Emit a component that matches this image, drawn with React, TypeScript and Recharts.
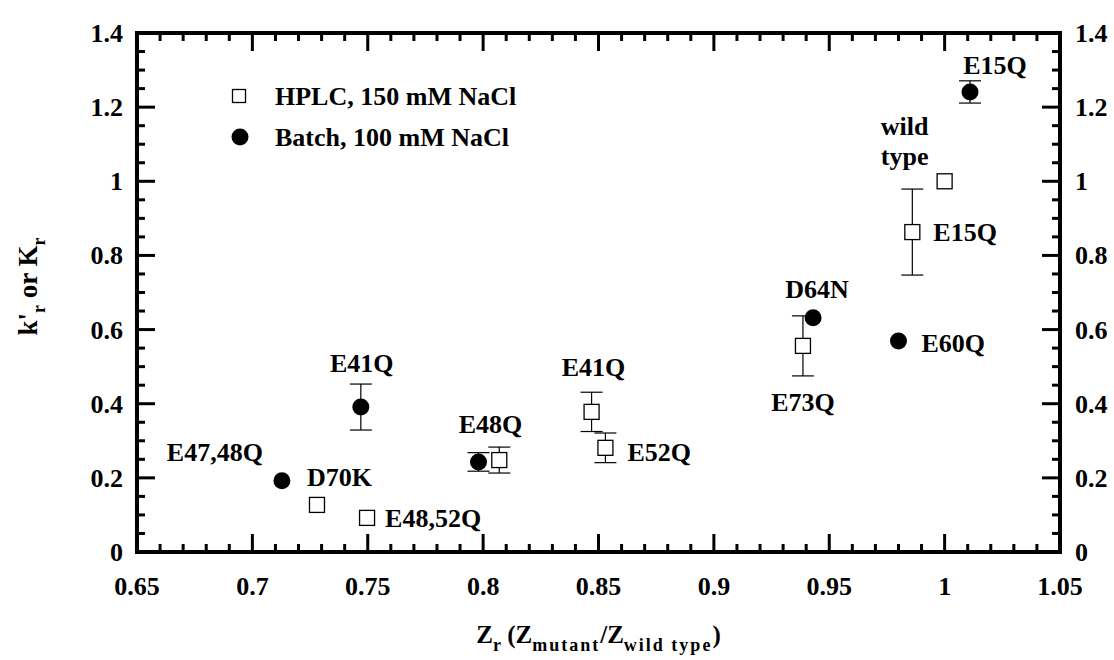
import { ErrorBar, Label, Scatter, ScatterChart, XAxis, YAxis } from 'recharts';

// HPLC, 150 mM NaCl (open squares)
const hplcZ = [0.728, 0.7497, 0.807, 0.847, 0.853, 0.9386, 0.986, 1.0];
const hplcK = [0.127, 0.092, 0.248, 0.378, 0.281, 0.556, 0.863, 1.0];
const hplcErr = [0, 0, 0.035, 0.053, 0.04, 0.081, 0.116, 0];
const hplcNames = ['D70K', 'E48,52Q', '', 'E41Q', 'E52Q', 'E73Q', 'E15Q', 'wild type'];

// Batch, 100 mM NaCl (filled circles)
const batchZ = [0.7128, 0.747, 0.798, 0.943, 0.98, 1.011];
const batchK = [0.192, 0.391, 0.243, 0.632, 0.569, 1.241];
const batchErr = [0, 0.062, 0.025, 0, 0, 0.03];
const batchNames = ['E47,48Q', 'E41Q', 'E48Q', 'D64N', 'E60Q', 'E15Q'];

const seriesNames = ['HPLC, 150 mM NaCl', 'Batch, 100 mM NaCl'];
const seriesSymbols = ['square', 'circle'];

const xMajor = [0.65, 0.7, 0.75, 0.8, 0.85, 0.9, 0.95, 1, 1.05];
const yMajor = [0, 0.2, 0.4, 0.6, 0.8, 1, 1.2, 1.4];

// minor ticks: 0.01 on x, 0.05 on y
const xTicks = Array.from({ length: 41 }, (_, i) => Math.round((0.65 + i * 0.01) * 100) / 100);
const yTicks = Array.from({ length: 29 }, (_, i) => Math.round(i * 0.05 * 100) / 100);

const hplcData = hplcZ.map((z, i) => ({ z, k: hplcK[i], err: hplcErr[i], name: hplcNames[i] }));
const batchData = batchZ.map((z, i) => ({ z, k: batchK[i], err: batchErr[i], name: batchNames[i] }));

const FONT = 'Liberation Serif';
const FS = 26;
const LIFT = 9; // baseline offset so text is centred on a y

type Spot = { dx: number; dy: number; anchor: 'start' | 'middle' | 'end'; gap?: number };
const labelSpots: Record<string, Spot> = {
  'hplc:D70K': { dx: -10, dy: -28, anchor: 'start' },
  'hplc:E48,52Q': { dx: 18, dy: 0, anchor: 'start' },
  'hplc:E41Q': { dx: 2, dy: -45, anchor: 'middle' },
  'hplc:E52Q': { dx: 22, dy: 4, anchor: 'start' },
  'hplc:E73Q': { dx: 0, dy: 56, anchor: 'middle' },
  'hplc:E15Q': { dx: 21, dy: 0, anchor: 'start' },
  'hplc:wild type': { dx: -40, dy: -55, anchor: 'middle', gap: 30 },
  'batch:E47,48Q': { dx: -67, dy: -29, anchor: 'middle' },
  'batch:E41Q': { dx: 1, dy: -44, anchor: 'middle' },
  'batch:E48Q': { dx: 12, dy: -38, anchor: 'middle' },
  'batch:D64N': { dx: 4, dy: -29, anchor: 'middle' },
  'batch:E60Q': { dx: 23, dy: 2, anchor: 'start' },
  'batch:E15Q': { dx: 25, dy: -27, anchor: 'middle' },
};

const near = (v: number, list: number[]) => list.some((m) => Math.abs(m - v) < 1e-6);
const fmt = (v: number) => String(Number(v.toFixed(2)));

function pointLabel(cx: number, cy: number, name: string, series: string) {
  const spot = labelSpots[`${series}:${name}`];
  if (!name || !spot) return null;
  const lines = spot.gap ? name.split(' ') : [name];
  return lines.map((line, i) => (
    <text
      key={line}
      x={cx + spot.dx}
      y={cy + spot.dy + LIFT + i * (spot.gap || 0)}
      textAnchor={spot.anchor}
      fontFamily={FONT}
      fontWeight="bold"
      fontSize={FS}
      fill="#000"
    >
      {line}
    </text>
  ));
}

function SquareShape({ cx, cy, payload }: any) {
  return (
    <g>
      <rect x={cx - 7.5} y={cy - 7.5} width={15} height={15} fill="#fff" stroke="#000" strokeWidth={1.3} />
      {pointLabel(cx, cy, payload.name, 'hplc')}
    </g>
  );
}

function CircleShape({ cx, cy, payload }: any) {
  return (
    <g>
      <circle cx={cx} cy={cy} r={8.5} fill="#000" />
      {pointLabel(cx, cy, payload.name, 'batch')}
    </g>
  );
}

const NoShape = () => <g />;

function BottomTick({ x, y, payload }: any) {
  const major = near(payload.value, xMajor);
  return (
    <g>
      <line x1={x} x2={x} y1={y} y2={y - (major ? 18 : 8)} stroke="#000" strokeWidth={3} />
      {major && (
        <text x={x} y={y + 34 + LIFT} textAnchor="middle" fill="#000" fontFamily={FONT} fontWeight="bold" fontSize={FS}>
          {fmt(payload.value)}
        </text>
      )}
    </g>
  );
}

function TopTick({ x, y, payload }: any) {
  const major = near(payload.value, xMajor);
  return (
    <g>
      <line x1={x} x2={x} y1={y} y2={y + (major ? 18 : 8)} stroke="#000" strokeWidth={3} />
    </g>
  );
}

function LeftTick({ x, y, payload }: any) {
  const major = near(payload.value, yMajor);
  return (
    <g>
      <line x1={x} x2={x + (major ? 18 : 8)} y1={y} y2={y} stroke="#000" strokeWidth={3} />
      {major && (
        <text x={x - 14} y={y + LIFT} textAnchor="end" fill="#000" fontFamily={FONT} fontWeight="bold" fontSize={FS}>
          {fmt(payload.value)}
        </text>
      )}
    </g>
  );
}

function RightTick({ x, y, payload }: any) {
  const major = near(payload.value, yMajor);
  return (
    <g>
      <line x1={x} x2={x - (major ? 18 : 8)} y1={y} y2={y} stroke="#000" strokeWidth={3} />
      {major && (
        <text x={x + 15} y={y + LIFT} textAnchor="start" fill="#000" fontFamily={FONT} fontWeight="bold" fontSize={FS}>
          {fmt(payload.value)}
        </text>
      )}
    </g>
  );
}

function XTitle({ viewBox }: any) {
  const cx = viewBox.x + viewBox.width / 2;
  return (
    <text x={cx} y={viewBox.y + 91} textAnchor="middle" fill="#000" fontFamily={FONT} fontWeight="bold" fontSize={25}>
      <tspan>Z</tspan>
      <tspan dy={8} fontSize={18}>r</tspan>
      <tspan dy={-8}> (Z</tspan>
      <tspan dy={8} fontSize={18} letterSpacing={2}>mutant</tspan>
      <tspan dy={-8}>/Z</tspan>
      <tspan dy={8} fontSize={18} letterSpacing={2}>wild type</tspan>
      <tspan dy={-8}>)</tspan>
    </text>
  );
}

function YTitle({ viewBox }: any) {
  const cy = viewBox.y + viewBox.height / 2 - 6;
  return (
    <text
      transform="rotate(-90)"
      x={-cy}
      y={viewBox.x - 40}
      textAnchor="middle"
      fill="#000"
      fontFamily={FONT}
      fontWeight="bold"
      fontSize={27}
    >
      <tspan>k'</tspan>
      <tspan dy={8} fontSize={18}>r</tspan>
      <tspan dy={-8}> or K</tspan>
      <tspan dy={8} fontSize={18}>r</tspan>
    </text>
  );
}

// legend in the top-left corner of the plot, placed from the left axis box
function LegendSvg({ viewBox }: any) {
  const ix = viewBox.x + 162;
  return (
    <g>
      {seriesNames.map((name, i) => {
        const cy = viewBox.y + 63 + i * 41;
        return (
          <g key={name}>
            {seriesSymbols[i] === 'square' ? (
              <rect x={ix - 6.5} y={cy - 6.5} width={13} height={13} fill="#fff" stroke="#000" strokeWidth={1.3} />
            ) : (
              <circle cx={ix + 1} cy={cy} r={8.5} fill="#000" />
            )}
            <text x={ix + 36} y={cy + LIFT} fill="#000" fontFamily={FONT} fontWeight="bold" fontSize={FS}>
              {name}
            </text>
          </g>
        );
      })}
    </g>
  );
}

const axisLine = { stroke: '#000', strokeWidth: 4, strokeLinecap: 'square' as const };

export default function App() {
  return (
    <div style={{ position: 'absolute', left: 0, top: 0, width: 1114, height: 660, background: '#fff' }}>
      <ScatterChart width={1114} height={660} margin={{ top: 32, right: 4, bottom: 48, left: 77 }}>
        <XAxis
          xAxisId="b"
          type="number"
          dataKey="z"
          domain={[0.65, 1.05]}
          ticks={xTicks}
          interval={0}
          height={60}
          tickSize={0}
          tickMargin={0}
          tickLine={false}
          axisLine={axisLine}
          tick={BottomTick}
        >
          <Label content={XTitle} />
        </XAxis>
        <XAxis
          xAxisId="t"
          orientation="top"
          type="number"
          dataKey="z"
          domain={[0.65, 1.05]}
          ticks={xTicks}
          interval={0}
          height={1}
          tickSize={0}
          tickMargin={0}
          tickLine={false}
          axisLine={axisLine}
          tick={TopTick}
        />
        <YAxis
          yAxisId="l"
          type="number"
          dataKey="k"
          domain={[0, 1.4]}
          ticks={yTicks}
          interval={0}
          width={60}
          tickSize={0}
          tickMargin={0}
          tickLine={false}
          axisLine={axisLine}
          tick={LeftTick}
        >
          <Label content={YTitle} />
          <Label content={LegendSvg} />
        </YAxis>
        <YAxis
          yAxisId="r"
          orientation="right"
          type="number"
          dataKey="k"
          domain={[0, 1.4]}
          ticks={yTicks}
          interval={0}
          width={50}
          tickSize={0}
          tickMargin={0}
          tickLine={false}
          axisLine={axisLine}
          tick={RightTick}
        />
        {/* error bars first (on the mirrored top/right axes), so the open squares sit on top of them */}
        <Scatter data={hplcData} xAxisId="t" yAxisId="r" shape={NoShape} isAnimationActive={false}>
          <ErrorBar dataKey="err" direction="y" width={11} stroke="#000" strokeWidth={1.2} />
        </Scatter>
        <Scatter data={batchData} xAxisId="t" yAxisId="r" shape={NoShape} isAnimationActive={false}>
          <ErrorBar dataKey="err" direction="y" width={11} stroke="#000" strokeWidth={1.2} />
        </Scatter>
        <Scatter name={seriesNames[0]} data={hplcData} xAxisId="b" yAxisId="l" shape={SquareShape} isAnimationActive={false} />
        <Scatter name={seriesNames[1]} data={batchData} xAxisId="b" yAxisId="l" shape={CircleShape} isAnimationActive={false} />
      </ScatterChart>
    </div>
  );
}
